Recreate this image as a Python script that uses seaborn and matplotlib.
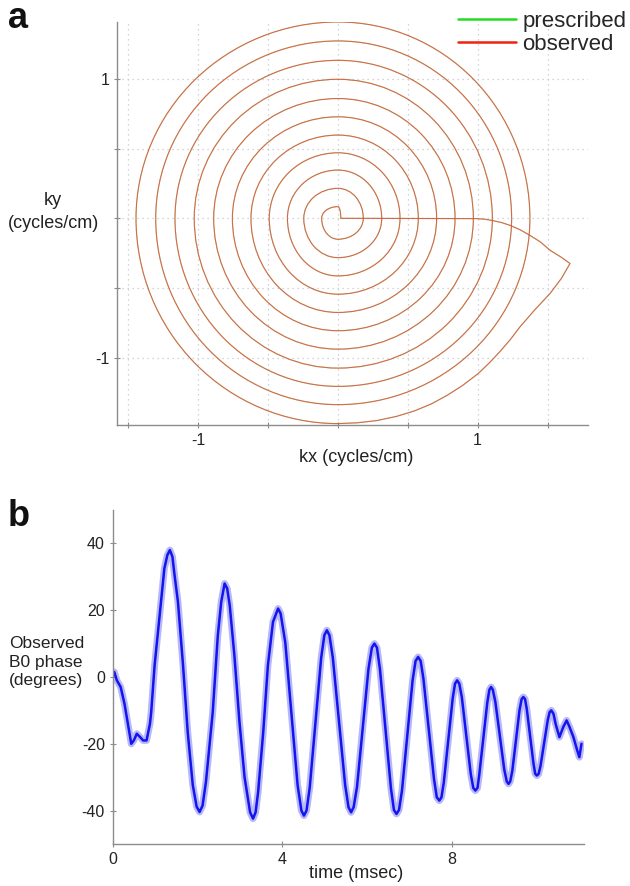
import matplotlib; matplotlib.use("Agg")
import matplotlib.pyplot as plt
from matplotlib.patches import Arc
from matplotlib.lines import Line2D
import seaborn as sns

sns.set_theme(style="white")
plt.rcParams["font.family"] = ["Liberation Sans", "DejaVu Sans"]
plt.rcParams["axes.unicode_minus"] = False

# ── panel a: spiral k-space trajectory ───────────────────────────────
# radius (cycles/cm) where each turn crosses the +kx, +ky, -kx, -ky axes
R_RIGHT  = [0.02, 0.181, 0.313, 0.444, 0.575, 0.706, 0.838, 0.969, 1.105, 1.243, 1.374]
R_TOP    = [0.084, 0.215, 0.346, 0.470, 0.597, 0.728, 0.859, 0.997, 1.133, 1.272, 1.408]
R_LEFT   = [0.117, 0.245, 0.362, 0.492, 0.623, 0.756, 0.890, 1.029, 1.167, 1.305, 1.446]
R_BOTTOM = [0.150, 0.282, 0.413, 0.544, 0.675, 0.806, 0.938, 1.074, 1.205, 1.336, 1.472]

# end of readout -> rewinder tip -> back to centre
TAIL_KX = [0.00, 0.14, 0.28, 0.42, 0.55, 0.67, 0.78, 0.89, 1.005, 1.085, 1.16, 1.235,
           1.303, 1.41, 1.518, 1.60, 1.661,
           1.60, 1.518, 1.45, 1.374, 1.30, 1.231, 1.17, 1.112, 1.05, 0.993, 0.06, 0.02]
TAIL_KY = [-1.472, -1.466, -1.450, -1.420, -1.380, -1.330, -1.270, -1.200, -1.112, -1.035, -0.955, -0.868,
           -0.778, -0.655, -0.539, -0.43, -0.324,
           -0.280, -0.229, -0.170, -0.122, -0.080, -0.050, -0.030, -0.017, -0.006, -0.002, 0.0, 0.0]

KX_TICKS = [-1.5, -1, -0.5, 0, 0.5, 1, 1.5]
KX_LABELS = ["", "-1", "", "", "", "1", ""]
KY_TICKS = [-1, -0.5, 0, 0.5, 1]
KY_LABELS = ["-1", "", "", "", "1"]

# ── panel b: observed B0 phase ───────────────────────────────────────
TIME_MS = [0.00, 0.04, 0.10, 0.19, 0.28, 0.36, 0.44, 0.50, 0.57, 0.65, 0.72, 0.80, 0.88,
           0.91, 0.99, 1.11, 1.22, 1.29, 1.35, 1.41, 1.46, 1.54, 1.66, 1.77, 1.89, 1.98,
           2.05, 2.12, 2.20, 2.36, 2.48, 2.56, 2.64, 2.70, 2.76, 2.87, 2.99, 3.11, 3.24,
           3.31, 3.37, 3.43, 3.55, 3.66, 3.78, 3.90, 3.96, 4.07, 4.215, 4.36, 4.45,
           4.51, 4.57, 4.645, 4.78, 4.915, 4.99, 5.05, 5.11, 5.19, 5.335, 5.48, 5.56,
           5.62, 5.68, 5.76, 5.895, 6.03, 6.11, 6.17, 6.23, 6.30, 6.43, 6.56, 6.63,
           6.69, 6.75, 6.82, 6.945, 7.07, 7.14, 7.20, 7.26, 7.325, 7.45, 7.575, 7.64,
           7.70, 7.75, 7.805, 7.91, 8.015, 8.07, 8.12, 8.17, 8.23, 8.335, 8.44, 8.50,
           8.55, 8.60, 8.64, 8.735, 8.83, 8.88, 8.92, 8.96, 9.02, 9.125, 9.23, 9.29,
           9.33, 9.37, 9.42, 9.505, 9.59, 9.64, 9.68, 9.72, 9.76, 9.84, 9.92, 9.96,
           10.00, 10.04, 10.085, 10.17, 10.255, 10.30, 10.34, 10.39, 10.44, 10.53,
           10.62, 10.70, 10.77, 10.86, 10.95, 11.00, 11.05]
PHASE_DEG = [0.0, 1.5, -1.0, -3.0, -8.0, -14.0, -20.0, -19.0, -17.0, -18.0, -19.0, -19.0, -14.0,
             -10.5, 3.5, 18.5, 32.5, 36.5, 38.0, 36.0, 30.5, 22.5, 3.5, -16.5, -32.4, -38.8,
             -40.4, -38.5, -31.4, -10.5, 12.5, 22.5, 28.0, 26.5, 21.5, 6.5, -13.5, -30.0, -40.5,
             -42.4, -40.5, -34.4, -16.5, 3.5, 16.5, 20.5, 19.0, 10.3, -11.0, -32.4, -40.0,
             -41.5, -40.0, -33.2, -13.8, 5.7, 12.5, 14.0, 12.5, 5.8, -13.3, -32.3, -39.0,
             -40.5, -39.0, -32.9, -15.3, 2.4, 8.8, 10.0, 8.8, 2.4, -15.5, -33.4, -39.8,
             -41.0, -39.8, -34.0, -17.5, -1.0, 4.8, 6.0, 4.8, -0.5, -15.5, -30.6, -36.0,
             -37.0, -36.0, -31.6, -19.0, -6.4, -2.0, -1.0, -2.0, -6.0, -17.5, -29.0, -33.2,
             -34.0, -33.2, -29.4, -18.5, -7.7, -3.8, -3.0, -3.8, -7.4, -17.5, -27.7, -31.3,
             -32.0, -31.3, -28.1, -19.0, -9.9, -6.6, -6.0, -6.6, -9.5, -17.8, -26.0, -29.0,
             -29.5, -29.0, -26.6, -19.8, -12.9, -10.5, -10.0, -11.0, -14.0, -18.0,
             -15.0, -13.0, -15.0, -18.0, -22.0, -24.0, -20.0]

GREEN = "#22dd22"
RED = "#ee2211"
SPIRAL_RED = "#e0503a"
BLUE = "#1414ee"
GRID = "#c3c8d4"
SPINE = "#8c8c8c"

W, H = 630, 886
fig = plt.figure(figsize=(W / 100, H / 100), dpi=100)
ax_a = fig.add_axes([117.3 / W, 1 - 425 / H, 471 / W, 403.3 / H])
ax_b = fig.add_axes([112.6 / W, 1 - 844 / H, 471 / W, 334 / H])


def draw_spiral(ax, color, lw, alpha, z):
    for k in range(len(R_TOP)):
        quads = [(R_RIGHT[k], R_TOP[k], 0, 90),
                 (R_LEFT[k], R_TOP[k], 90, 180),
                 (R_LEFT[k], R_BOTTOM[k], 180, 270)]
        if k + 1 < len(R_RIGHT):
            quads.append((R_RIGHT[k + 1], R_BOTTOM[k], 270, 360))
        for rx, ry, t1, t2 in quads:
            ax.add_patch(Arc((0, 0), 2 * rx, 2 * ry, theta1=t1, theta2=t2,
                             color=color, lw=lw, alpha=alpha, zorder=z))
    sns.lineplot(x=TAIL_KX, y=TAIL_KY, sort=False, estimator=None,
                 color=color, lw=lw, alpha=alpha, zorder=z, ax=ax)


# prescribed underneath, observed on top -> green shows through a little
draw_spiral(ax_a, GREEN, 0.8, 0.4, 2)
draw_spiral(ax_a, SPIRAL_RED, 0.8, 0.85, 3)

ax_a.set_xlim(-1.58, 1.792)
ax_a.set_ylim(-1.482, 1.41)
ax_a.set_xticks(KX_TICKS, KX_LABELS)
ax_a.set_yticks(KY_TICKS, KY_LABELS)
ax_a.grid(True, ls=(0, (1, 3)), color=GRID, lw=0.9)
ax_a.set_axisbelow(True)

ax_a.legend(handles=[Line2D([], [], color=GREEN, lw=1.8, label="prescribed"),
                     Line2D([], [], color=RED, lw=1.8, label="observed")],
            loc="upper left", bbox_to_anchor=(458 / W, 1 - 11 / H),
            bbox_transform=fig.transFigure, frameon=False, fontsize=16,
            handlelength=2.6, handletextpad=0.3, labelspacing=0.1,
            borderpad=0, borderaxespad=0)

# ── panel b ──────────────────────────────────────────────────────────
sns.lineplot(x=TIME_MS, y=PHASE_DEG, color=BLUE, lw=5.0, alpha=0.3, ax=ax_b)
sns.lineplot(x=TIME_MS, y=PHASE_DEG, color=BLUE, lw=1.8, ax=ax_b)
ax_b.set_xlim(0, 11.1)
ax_b.set_ylim(-50, 50)
ax_b.set_xticks([0, 4, 8])
ax_b.set_yticks([-40, -20, 0, 20, 40])

for ax in (ax_a, ax_b):
    sns.despine(ax=ax)
    for s in ("left", "bottom"):
        ax.spines[s].set_color(SPINE)
        ax.spines[s].set_linewidth(1.0)
    ax.tick_params(direction="inout", length=5, width=0.8, color=SPINE,
                   labelsize=11.5, labelcolor="#222222", pad=3,
                   bottom=True, left=True)
    ax.set_xlabel("")
    ax.set_ylabel("")

fig.text(53 / W, 1 - 212 / H, "ky\n(cycles/cm)", ha="center", va="center",
         fontsize=13, linespacing=1.5, color="#222222")
fig.text(356 / W, 1 - 457 / H, "kx (cycles/cm)", ha="center", va="center",
         fontsize=13, color="#222222")
fig.text(9 / W, 1 - 662 / H, "Observed\nB0 phase\n(degrees)", ha="left", va="center",
         fontsize=12.5, linespacing=1.3, color="#222222")
fig.text(356 / W, 1 - 873 / H, "time (msec)", ha="center", va="center",
         fontsize=13, color="#222222")
fig.text(8 / W, 1 - 18 / H, "a", ha="left", va="center", fontsize=26,
         fontweight="bold", color="#111111")
fig.text(8 / W, 1 - 516 / H, "b", ha="left", va="center", fontsize=26,
         fontweight="bold", color="#111111")

fig.savefig("out.png", dpi=100)
plt.close(fig)
